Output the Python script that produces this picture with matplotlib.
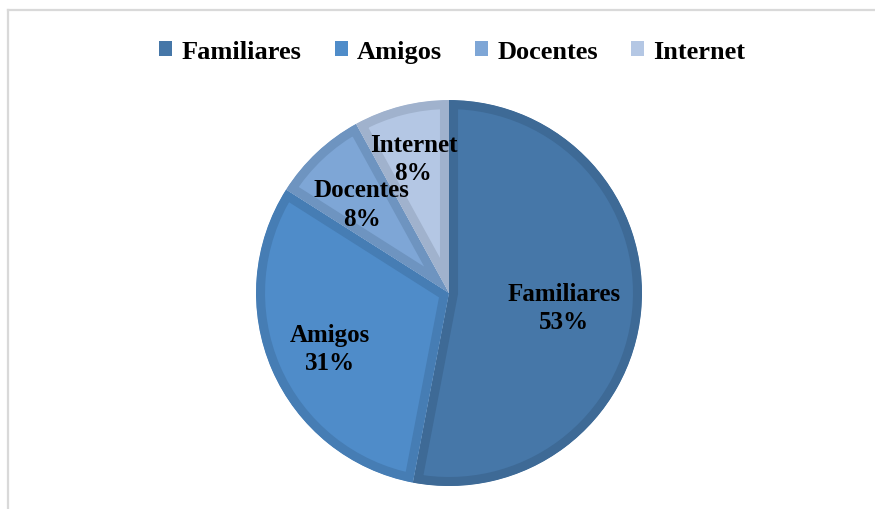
import matplotlib
matplotlib.use("Agg")
import matplotlib.pyplot as plt
from matplotlib.lines import Line2D
import numpy as np

categories = ["Familiares", "Amigos", "Docentes", "Internet"]
values = [53, 31, 8, 8]

face_colors = ["#4677A8", "#4F8CC9", "#7EA6D6", "#B4C7E4"]
edge_colors = ["#3E6A96", "#467DB4", "#6E94C0", "#A0B2CD"]
label_dist = [0.60, 0.67, 0.66, 0.74]

plt.rcParams["font.family"] = ["Liberation Serif", "DejaVu Serif"]

fig = plt.figure(figsize=(8.75, 5.1), dpi=100)
ax = fig.add_axes([0.2926, 0.045, 0.4411, 0.7569])

wedges, _ = ax.pie(
    values,
    colors=face_colors,
    startangle=90,
    counterclock=False,
    wedgeprops=dict(linewidth=0),
)

# darker inner band along each slice edge (stroke clipped to the slice)
for w, ec in zip(wedges, edge_colors):
    w.set_edgecolor(ec)
    w.set_linewidth(13)
    w.set_joinstyle("miter")
    w.set_clip_path(w)
    w.set_clip_on(True)

for w, cat, val, d in zip(wedges, categories, values, label_dist):
    ang = np.deg2rad((w.theta1 + w.theta2) / 2)
    ax.text(d * np.cos(ang), d * np.sin(ang) - 0.02, f"{cat}\n{val}%",
            ha="center", va="center", fontsize=18, fontweight="bold",
            linespacing=1.3)

ax.set_xlim(-1, 1)
ax.set_ylim(-1, 1)
ax.set_aspect("equal")

handles = [plt.Rectangle((0, 0), 1, 1, facecolor=c, edgecolor="none") for c in face_colors]
fig.legend(handles, categories, loc="center", bbox_to_anchor=(0.517, 0.897),
           ncol=4, frameon=False, handlelength=0.5, handleheight=0.5,
           handletextpad=0.35, columnspacing=1.25,
           prop=dict(size=19, weight="bold"))

# light grey frame (left and top edges visible)
fig.add_artist(Line2D([0.0086, 0.0086], [0.0, 0.978], transform=fig.transFigure,
                      color="#D9D9D9", linewidth=1.6))
fig.add_artist(Line2D([0.0086, 1.0], [0.978, 0.978], transform=fig.transFigure,
                      color="#D9D9D9", linewidth=1.6))

fig.savefig("out.png", dpi=100, facecolor="white")
